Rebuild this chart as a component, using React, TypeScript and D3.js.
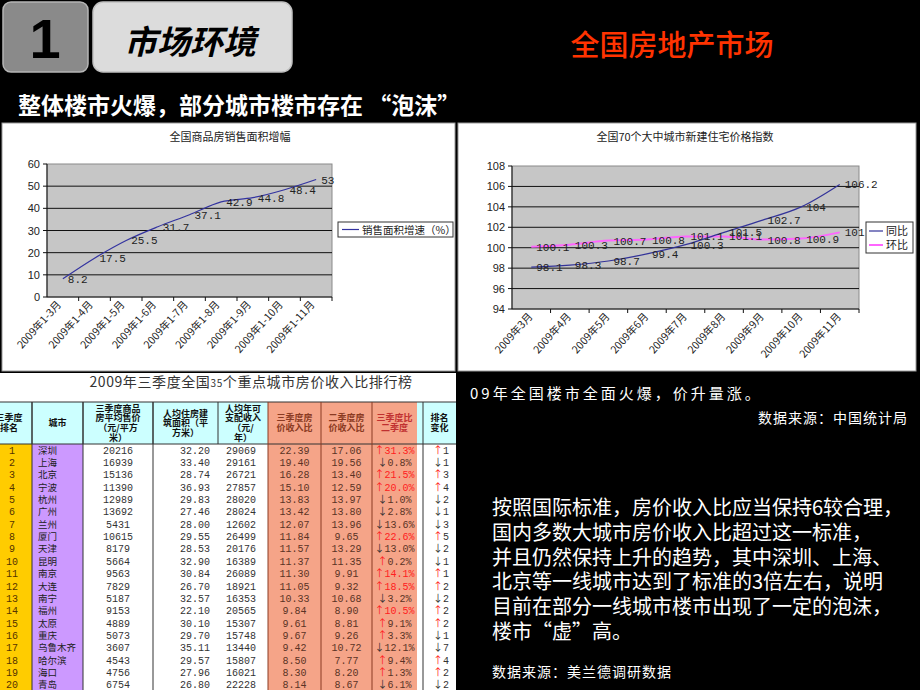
import React from 'react';
import * as d3 from 'd3';

// ---------- data ----------
const salesCats = ['2009年1-3月', '2009年1-4月', '2009年1-5月', '2009年1-6月', '2009年1-7月', '2009年1-8月', '2009年1-9月', '2009年1-10月', '2009年1-11月'];
const salesValues = [8.2, 17.5, 25.5, 31.7, 37.1, 42.9, 44.8, 48.4, 53];
const salesTicks = [0, 10, 20, 30, 40, 50, 60];

const priceCats = ['2009年3月', '2009年4月', '2009年5月', '2009年6月', '2009年7月', '2009年8月', '2009年9月', '2009年10月', '2009年11月'];
const yoyValues = [98.1, 98.3, 98.7, 99.4, 100.3, 101.5, 102.7, 104, 106.2];
const momValues = [100.1, 100.3, 100.7, 100.8, 101.1, 101.1, 100.8, 100.9, 101.5];
const priceTicks = [94, 96, 98, 100, 102, 104, 106, 108];

const ranks = [1, 2, 3, 4, 5, 6, 7, 8, 9, 10, 11, 12, 13, 14, 15, 16, 17, 18, 19, 20];
const cities = ['深圳', '上海', '北京', '宁波', '杭州', '广州', '兰州', '厦门', '天津', '昆明', '南京', '大连', '南宁', '福州', '太原', '重庆', '乌鲁木齐', '哈尔滨', '海口', '青岛'];
const avgPrices = [20216, 16939, 15136, 11390, 12989, 13692, 5431, 10615, 8179, 5664, 9563, 7829, 5187, 9153, 4889, 5073, 3607, 4543, 4756, 6754];
const areas = [32.2, 33.4, 28.74, 36.93, 29.83, 27.46, 28.0, 29.55, 28.53, 32.9, 30.84, 26.7, 32.57, 22.1, 30.1, 29.7, 35.11, 29.57, 27.96, 26.8];
const incomes = [29069, 29161, 26721, 27857, 28020, 28024, 12602, 26499, 20176, 16389, 26089, 18921, 16353, 20565, 15307, 15748, 13440, 15807, 16021, 22228];
const ratioQ3 = [22.39, 19.4, 16.28, 15.1, 13.83, 13.42, 12.07, 11.84, 11.57, 11.37, 11.3, 11.05, 10.33, 9.84, 9.61, 9.67, 9.42, 8.5, 8.3, 8.14];
const ratioQ2 = [17.06, 19.56, 13.4, 12.59, 13.97, 13.8, 13.96, 9.65, 13.29, 11.35, 9.91, 9.32, 10.68, 8.9, 8.81, 9.26, 10.72, 7.77, 8.2, 8.67];
const changePct = [31.3, -0.8, 21.5, 20.0, -1.0, -2.8, -13.6, 22.6, -13.0, 0.2, 14.1, 18.5, -3.2, 10.5, 9.1, 3.3, -12.1, 9.4, 1.3, -6.1];
const rankChange = [1, -1, 3, 4, -2, -1, -3, 5, -2, -1, 1, 2, -2, 2, 2, -1, -7, 4, 2, -2];

const paragraph = [
  '按照国际标准，房价收入比应当保持6较合理，',
  '国内多数大城市房价收入比超过这一标准，',
  '并且仍然保持上升的趋势，其中深圳、上海、',
  '北京等一线城市达到了标准的3倍左右，说明',
  '目前在部分一线城市楼市出现了一定的泡沫，',
  '楼市“虚”高。',
];

const CJK = '"Noto Sans CJK SC", "Noto Sans", sans-serif';
const MONO = '"Liberation Mono", "DejaVu Sans Mono", monospace';

function LineChartLeft() {
  const x = d3.scaleBand<string>().domain(salesCats).range([47, 332]);
  const y = d3.scaleLinear().domain([0, 60]).range([297, 164]);
  const cx = (i: number) => (x(salesCats[i]) as number) + x.bandwidth() / 2;
  const line = d3.line<number>().x((_, i) => cx(i)).y((d) => y(d)).curve(d3.curveMonotoneX);
  return (
    <g>
      <rect x={2} y={123} width={453} height={248} fill="#fff" stroke="#9a9a9a" />
      <text x={230} y={141} textAnchor="middle" fontSize={11} fontFamily={CJK} fill="#222">全国商品房销售面积增幅</text>
      <rect x={47} y={164} width={285} height={133} fill="#c6c6c6" stroke="#8a8a8a" />
      {salesTicks.slice(1, -1).map((t) => (
        <line key={t} x1={47} x2={332} y1={y(t)} y2={y(t)} stroke="#111" strokeWidth={1} />
      ))}
      <line x1={47} x2={47} y1={164} y2={297} stroke="#111" />
      <line x1={47} x2={332} y1={297} y2={297} stroke="#111" />
      {salesTicks.map((t) => (
        <g key={t}>
          <line x1={43} x2={47} y1={y(t)} y2={y(t)} stroke="#111" />
          <text x={40} y={y(t) + 4} textAnchor="end" fontSize={11} fontFamily='"Liberation Sans", sans-serif' fill="#222">{t}</text>
        </g>
      ))}
      {salesCats.map((c, i) => (
        <g key={c}>
          <line x1={(x(c) as number) + x.bandwidth()} x2={(x(c) as number) + x.bandwidth()} y1={297} y2={301} stroke="#111" />
          <text transform={`translate(${cx(i) - 1},${305}) rotate(-48)`} textAnchor="end" fontSize={10.5} fontFamily={CJK} fill="#222">{c}</text>
        </g>
      ))}
      <path d={line(salesValues) as string} fill="none" stroke="#3333a0" strokeWidth={1.2} />
      {salesValues.map((v, i) => (
        <text key={i} x={cx(i) + 5} y={y(v) + 4} fontSize={11} fontFamily={MONO} fill="#222">{v}</text>
      ))}
      <rect x={338} y={222} width={115} height={15} fill="#fff" stroke="#333" />
      <line x1={342} x2={359} y1={229.5} y2={229.5} stroke="#3333a0" strokeWidth={1.2} />
      <text x={362} y={233.5} fontSize={10.5} fontFamily={CJK} fill="#222">销售面积增速（%）</text>
    </g>
  );
}

function LineChartRight() {
  const x = d3.scaleBand<string>().domain(priceCats).range([512, 859]);
  const y = d3.scaleLinear().domain([94, 108]).range([309, 166]);
  const cx = (i: number) => (x(priceCats[i]) as number) + x.bandwidth() / 2;
  const line = d3.line<number>().x((_, i) => cx(i)).y((d) => y(d)).curve(d3.curveMonotoneX);
  return (
    <g>
      <rect x={458} y={123} width={458} height={248} fill="#fff" stroke="#9a9a9a" />
      <text x={685} y={141} textAnchor="middle" fontSize={11} fontFamily={CJK} fill="#222">全国70个大中城市新建住宅价格指数</text>
      <rect x={512} y={166} width={347} height={143} fill="#c6c6c6" stroke="#8a8a8a" />
      {priceTicks.slice(1, -1).map((t) => (
        <line key={t} x1={512} x2={859} y1={y(t)} y2={y(t)} stroke="#111" />
      ))}
      <line x1={512} x2={512} y1={166} y2={309} stroke="#111" />
      <line x1={512} x2={859} y1={309} y2={309} stroke="#111" />
      {priceTicks.map((t) => (
        <g key={t}>
          <line x1={508} x2={512} y1={y(t)} y2={y(t)} stroke="#111" />
          <text x={505} y={y(t) + 4} textAnchor="end" fontSize={11} fontFamily='"Liberation Sans", sans-serif' fill="#222">{t}</text>
        </g>
      ))}
      {priceCats.map((c, i) => (
        <g key={c}>
          <line x1={(x(c) as number) + x.bandwidth()} x2={(x(c) as number) + x.bandwidth()} y1={309} y2={313} stroke="#111" />
          <text transform={`translate(${cx(i) + 2},${317}) rotate(-48)`} textAnchor="end" fontSize={10.5} fontFamily={CJK} fill="#222">{c}</text>
        </g>
      ))}
      <path d={line(momValues) as string} fill="none" stroke="#ff66ff" strokeWidth={2} />
      <path d={line(yoyValues) as string} fill="none" stroke="#333399" strokeWidth={1.2} />
      {yoyValues.map((v, i) => (
        <text key={'a' + i} x={cx(i) + 5} y={y(v) + 4} fontSize={11} fontFamily={MONO} fill="#222">{v}</text>
      ))}
      {momValues.map((v, i) => (
        <text key={'b' + i} x={cx(i) + 5} y={y(v) + 4} fontSize={11} fontFamily={MONO} fill="#222">{v}</text>
      ))}
      <rect x={866} y={222} width={47} height={31} fill="#fff" stroke="#333" />
      <line x1={869} x2={883} y1={231} y2={231} stroke="#333399" strokeWidth={1.2} />
      <text x={886} y={235} fontSize={11} fontFamily={CJK} fill="#222">同比</text>
      <line x1={869} x2={883} y1={245} y2={245} stroke="#ff66ff" strokeWidth={2} />
      <text x={886} y={249} fontSize={11} fontFamily={CJK} fill="#222">环比</text>
    </g>
  );
}

function RankTable() {
  const colX = [-14, 32, 83, 153, 218, 268, 321, 372, 417, 423, 456];
  const headTop = 402;
  const headBot = 444;
  const rowH = 12.35;
  const y = d3.scaleBand<number>().domain(ranks).range([headBot, headBot + rowH * ranks.length]);
  const mid = (a: number, b: number) => (colX[a] + colX[b]) / 2;
  const salmon = '#f5a488';
  const headers: { c: number; lines: string[]; color: string; bg: string }[] = [
    { c: 0, lines: ['三季度', '排名'], color: '#111', bg: '#ccffff' },
    { c: 1, lines: ['城市'], color: '#111', bg: '#ccffff' },
    { c: 2, lines: ['三季度商品', '房平均售价', '（元/平方', '米）'], color: '#111', bg: '#ccffff' },
    { c: 3, lines: ['人均住房建', '筑面积（平', '方米）'], color: '#111', bg: '#ccffff' },
    { c: 4, lines: ['人均年可', '支配收入', '（元/', '年）'], color: '#111', bg: '#ccffff' },
    { c: 5, lines: ['三季度房', '价收入比'], color: '#8a3a22', bg: salmon },
    { c: 6, lines: ['二季度房', '价收入比'], color: '#8a3a22', bg: salmon },
    { c: 7, lines: ['三季度比', '二季度'], color: '#c03030', bg: salmon },
    { c: 8, lines: [], color: '#111', bg: '#ccffff' },
    { c: 9, lines: ['排名', '变化'], color: '#111', bg: '#ccffff' },
  ];
  const bodyBg = ['#ffcc00', '#cc99ff', '#fff', '#fff', '#fff', salmon, salmon, salmon, '#fff', '#fff'];
  const lh = 9.8;
  const bodyTop = headBot;
  const bodyBot = headBot + rowH * ranks.length;
  return (
    <g>
      <rect x={0} y={373} width={456} height={317} fill="#fff" />
      <text x={251} y={387} textAnchor="middle" fontSize={14} fontFamily={CJK} fill="#333" letterSpacing={0.6}>
        2009年三季度全国<tspan fontSize={10}>35</tspan>个重点城市房价收入比排行榜
      </text>
      {headers.map((h) => (
        <g key={h.c}>
          <rect x={colX[h.c]} y={headTop} width={colX[h.c + 1] - colX[h.c]} height={headBot - headTop} fill={h.bg} />
          {h.lines.map((s, k) => (
            <text key={k} x={mid(h.c, h.c + 1)} y={(headTop + headBot) / 2 + (k - (h.lines.length - 1) / 2) * lh + 3.3}
              textAnchor="middle" fontSize={9} fontWeight="bold" fontFamily={CJK} fill={h.color}>{s}</text>
          ))}
        </g>
      ))}
      {bodyBg.map((bg, c) => (
        <rect key={c} x={colX[c]} y={bodyTop} width={colX[c + 1] - colX[c]} height={bodyBot - bodyTop} fill={bg} />
      ))}
      <line x1={0} x2={456} y1={headTop} y2={headTop} stroke="#333" />
      <line x1={0} x2={456} y1={headBot} y2={headBot} stroke="#333" />
      {[1, 2, 3, 4].map((c) => (
        <line key={'h' + c} x1={colX[c]} x2={colX[c]} y1={headTop} y2={headBot} stroke="#333" />
      ))}
      {[1, 2, 3, 9].map((c) => (
        <line key={'v' + c} x1={colX[c]} x2={colX[c]} y1={headTop} y2={bodyBot} stroke="#333" />
      ))}
      {[5, 6, 7].map((c) => (
        <line key={'s' + c} x1={colX[c]} x2={colX[c]} y1={headTop} y2={bodyBot} stroke="#8a3a22" />
      ))}
      {ranks.map((r, i) => {
        const yy = (y(r) as number) + rowH / 2 + 3.5;
        const pct = changePct[i];
        const up = pct >= 0;
        const rc = rankChange[i];
        return (
          <g key={r} fontFamily={MONO} fontSize={10}>
            <text x={mid(0, 1) + 3} y={yy} textAnchor="middle" fill="#553300">{r}</text>
            <text x={colX[1] + 6} y={yy} fontFamily={CJK} fontSize={9.5} fill="#222">{cities[i]}</text>
            <text x={mid(2, 3)} y={yy} textAnchor="middle" fill="#333">{avgPrices[i]}</text>
            <text x={colX[4] - 8} y={yy} textAnchor="end" fill="#333">{areas[i].toFixed(2)}</text>
            <text x={mid(4, 5) - 2} y={yy} textAnchor="middle" fill="#333">{incomes[i]}</text>
            <text x={mid(5, 6)} y={yy} textAnchor="middle" fill="#5a3325">{ratioQ3[i].toFixed(2)}</text>
            <text x={mid(6, 7)} y={yy} textAnchor="middle" fill="#5a3325">{ratioQ2[i].toFixed(2)}</text>
            <text x={mid(7, 8)} y={yy} textAnchor="middle" fill="#5a3325">
              <tspan fill={up ? '#ff2020' : '#333'} fontFamily={CJK}>{up ? '↑' : '↓'}</tspan>
              <tspan fill={up && pct >= 10 ? '#ff2020' : '#5a3325'}>{Math.abs(pct).toFixed(1)}%</tspan>
            </text>
            <text x={colX[9] + 10} y={yy} fill="#333">
              <tspan fill={rc > 0 ? '#ff2020' : '#333'} fontFamily={CJK}>{rc > 0 ? '↑' : '↓'}</tspan>
              <tspan>{Math.abs(rc)}</tspan>
            </text>
          </g>
        );
      })}
    </g>
  );
}

export default function App() {
  return (
    <svg width={920} height={690} style={{ position: 'absolute', left: 0, top: 0, display: 'block', background: '#000' }}>
      <rect x={0} y={0} width={920} height={690} fill="#000" />
      <rect x={3} y={2} width={85} height={70} rx={8} fill="#8a8a8a" stroke="#b5b5b5" strokeWidth={1.5} />
      <text x={45} y={58} textAnchor="middle" fontSize={56} fontWeight="bold" fontFamily='"Liberation Sans", Arial, sans-serif' fill="#000">1</text>
      <rect x={93} y={2} width={199} height={70} rx={10} fill="#dcdcdc" stroke="#c0c0c0" strokeWidth={1.5} />
      <text x={190} y={54} textAnchor="middle" fontSize={33} fontWeight="bold" fontStyle="italic" fontFamily={CJK} fill="#000">市场环境</text>
      <text x={672} y={56} textAnchor="middle" fontSize={29} fontWeight={500} fontFamily={CJK} fill="#ff3300">全国房地产市场</text>
      <text x={18} y={114} fontSize={23} fontWeight="bold" fontFamily={CJK} fill="#fff">整体楼市火爆，部分城市楼市存在 “泡沫”</text>

      <LineChartLeft />
      <LineChartRight />
      <RankTable />

      <text x={470} y={399} fontSize={15} fontFamily={CJK} fill="#fff" letterSpacing={3}>09年全国楼市全面火爆，价升量涨。</text>
      <text x={908} y={423} textAnchor="end" fontSize={14} fontFamily={CJK} fill="#fff" letterSpacing={1}>数据来源：中国统计局</text>
      {paragraph.map((s, i) => (
        <text key={i} x={492} y={515 + i * 24.8} fontSize={20} fontFamily={CJK} fill="#fff">{s}</text>
      ))}
      <text x={492} y={677} fontSize={14} fontFamily={CJK} fill="#fff" letterSpacing={1}>数据来源：美兰德调研数据</text>
    </svg>
  );
}
